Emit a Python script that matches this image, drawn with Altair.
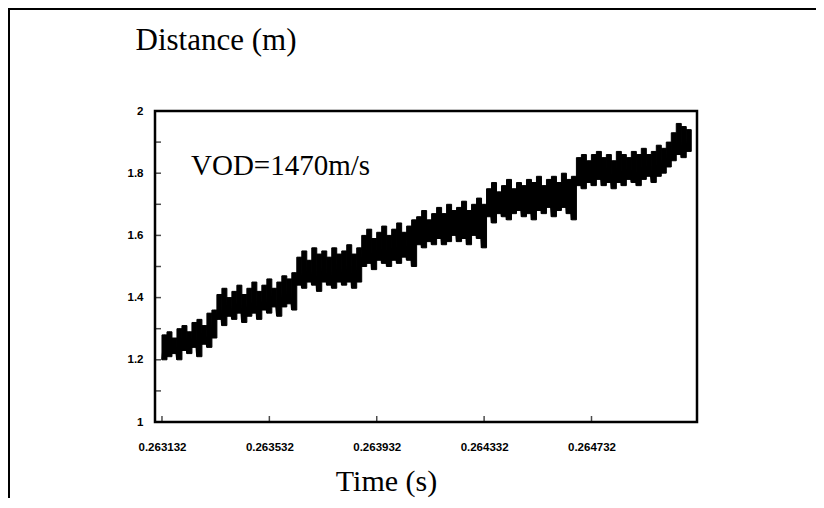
import altair as alt
import pandas as pd

# ---- data ----
time_start = 0.263132      # s, first sample of the record
bin_width = 0.0000186      # s between envelope samples

dist_high = [
    1.28, 1.29, 1.27, 1.30, 1.31, 1.29, 1.32, 1.33, 1.31, 1.35, 1.36,
    1.41, 1.43, 1.40, 1.42, 1.44, 1.41, 1.43, 1.45, 1.42, 1.44, 1.46, 1.43, 1.45, 1.47, 1.46, 1.48,
    1.53, 1.55, 1.52, 1.56, 1.54, 1.55, 1.53, 1.56, 1.54, 1.55, 1.57, 1.54, 1.56,
    1.60, 1.62, 1.59, 1.61, 1.63, 1.60, 1.62, 1.64, 1.61, 1.63, 1.65,
    1.66, 1.68, 1.65, 1.67, 1.69, 1.67, 1.70, 1.68, 1.69, 1.71, 1.68, 1.70, 1.72, 1.70,
    1.75, 1.77, 1.74, 1.76, 1.78, 1.75, 1.77, 1.76, 1.78, 1.77, 1.79, 1.76, 1.78, 1.79, 1.77, 1.80, 1.78, 1.79,
    1.85, 1.86, 1.84, 1.86, 1.87, 1.85, 1.86, 1.84, 1.87, 1.86, 1.85, 1.87, 1.86, 1.88, 1.86, 1.87, 1.89, 1.88, 1.90,
    1.93, 1.96, 1.95, 1.94,
]
dist_low = [
    1.20, 1.21, 1.22, 1.20, 1.23, 1.22, 1.24, 1.21, 1.25, 1.24, 1.27,
    1.33, 1.31, 1.34, 1.33, 1.35, 1.32, 1.34, 1.35, 1.33, 1.36, 1.35, 1.37, 1.34, 1.37, 1.38, 1.36,
    1.44, 1.43, 1.45, 1.44, 1.42, 1.45, 1.44, 1.43, 1.45, 1.44, 1.45, 1.43, 1.45,
    1.50, 1.51, 1.49, 1.52, 1.51, 1.50, 1.52, 1.51, 1.53, 1.52, 1.50,
    1.57, 1.56, 1.58, 1.57, 1.59, 1.57, 1.58, 1.60, 1.58, 1.59, 1.57, 1.60, 1.59, 1.56,
    1.66, 1.64, 1.67, 1.66, 1.65, 1.67, 1.68, 1.66, 1.67, 1.65, 1.68, 1.67, 1.69, 1.66, 1.68, 1.69, 1.67, 1.65,
    1.76, 1.75, 1.77, 1.76, 1.78, 1.76, 1.77, 1.75, 1.77, 1.76, 1.78, 1.77, 1.76, 1.78, 1.79, 1.77, 1.79, 1.80, 1.82,
    1.84, 1.86, 1.85, 1.87,
]

x_ticks = [0.263132, 0.263532, 0.263932, 0.264332, 0.264732]
y_ticks = [1.0, 1.2, 1.4, 1.6, 1.8, 2.0]
y_minor = [1.1, 1.3, 1.5, 1.7, 1.9]
x_domain = [0.263106, 0.265125]
y_domain = [1.0, 2.0]
annotation = "VOD=1470m/s"
x_title = "Time (s)"
y_title = "Distance (m)"

# ---- build the trace (low / high alternating samples) ----
rows = []
cols = []
for i, (lo, hi) in enumerate(zip(dist_low, dist_high)):
    t = time_start + i * bin_width
    rows.append({"t": t, "d": lo})
    rows.append({"t": t + bin_width / 2, "d": hi})
    cols.append({"t": t, "t2": t + bin_width, "lo": lo, "hi": hi})
trace = pd.DataFrame(rows)
columns = pd.DataFrame(cols)

W, H = 542, 311
SERIF = "Liberation Serif"

xscale = alt.Scale(domain=x_domain, nice=False, zero=False)
yscale = alt.Scale(domain=y_domain, nice=False, zero=False)

x_axis = alt.Axis(values=x_ticks, format=".6f", tickSize=0, grid=False, domain=False,
                  labelFont="Liberation Sans", labelFontWeight="bold", labelFontSize=11.5,
                  labelColor="black", labelPadding=19, labelBaseline="top",
                  title=x_title, titleFont=SERIF, titleFontSize=30, titleFontWeight="normal",
                  titleColor="black", titleX=231, titleY=59, titleAlign="center",
                  titleBaseline="middle")
y_axis = alt.Axis(values=y_ticks, format="~g", tickSize=0, grid=False, domain=False,
                  labelFont="Liberation Sans", labelFontWeight="bold", labelFontSize=11.5,
                  labelColor="black", labelPadding=12,
                  title=y_title, titleFont=SERIF, titleFontSize=31, titleFontWeight="normal",
                  titleColor="black", titleAngle=0, titleX=-20, titleY=-71,
                  titleAlign="left", titleBaseline="middle")

line = alt.Chart(trace).mark_line(color="black", strokeWidth=1.5).encode(
    x=alt.X("t:Q", scale=xscale, axis=x_axis),
    y=alt.Y("d:Q", scale=yscale, axis=y_axis),
    order="t:Q",
)

# solid columns between the low and high envelope; a thin black stroke closes the
# anti-aliasing seams between neighbouring columns
bars = alt.Chart(columns).mark_rect(color="black", stroke="black", strokeWidth=1).encode(
    x=alt.X("t:Q", scale=xscale), x2="t2:Q",
    y=alt.Y("lo:Q", scale=yscale), y2="hi:Q",
)

ytick_df = pd.DataFrame({"v": y_ticks + y_minor})
yticks = alt.Chart(ytick_df).mark_tick(color="black", thickness=1.5, size=6, orient="horizontal").encode(
    y=alt.Y("v:Q", scale=yscale), x=alt.value(3)
)
xtick_df = pd.DataFrame({"v": x_ticks})
xticks = alt.Chart(xtick_df).mark_tick(color="black", thickness=1.5, size=6, orient="vertical").encode(
    x=alt.X("v:Q", scale=xscale), y=alt.value(H - 3)
)

one = pd.DataFrame({"label": [annotation]})
vod = alt.Chart(one).mark_text(font=SERIF, fontSize=29, align="left", baseline="middle",
                               color="black").encode(
    x=alt.value(36), y=alt.value(55), text="label:N"
)

border_top = alt.Chart(one).mark_rect(color="black").encode(
    x=alt.value(-147), x2=alt.value(661), y=alt.value(-103), y2=alt.value(-101)
)
border_left = alt.Chart(one).mark_rect(color="black").encode(
    x=alt.value(-147), x2=alt.value(-145), y=alt.value(-103), y2=alt.value(389)
)

chart = alt.layer(line, bars, yticks, xticks, vod, border_top, border_left).properties(
    width=W, height=H,
    autosize=alt.AutoSizeParams(type="none"),
    padding={"left": 147, "top": 103, "right": 119, "bottom": 76},
    background="white",
).configure_view(stroke="black", strokeWidth=2.5)

chart.save("out.html", embed_options={"renderer": "svg", "actions": False})
